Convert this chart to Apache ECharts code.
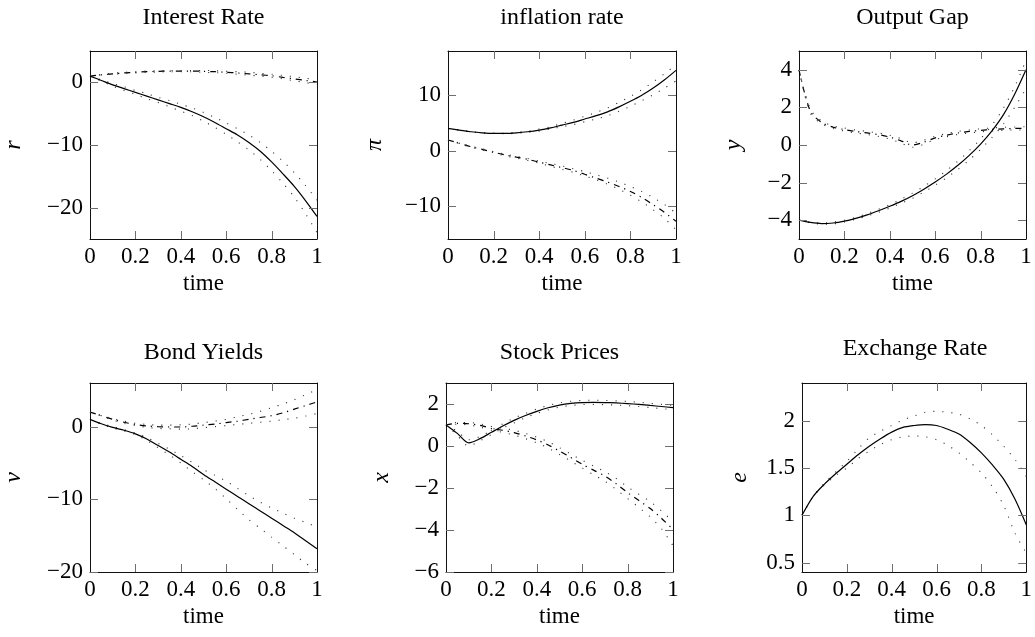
<!DOCTYPE html>
<html>
<head>
<meta charset="utf-8">
<script src="https://cdn.jsdelivr.net/npm/echarts@6/dist/echarts.min.js"></script>
<style>
  html, body { margin: 0; padding: 0; background: #fff; }
  #chart { width: 1035px; height: 637px; }
</style>
</head>
<body>
<div id="chart"></div>
<script>
// shared time grid
const time = [0, 0.05, 0.1, 0.15, 0.2, 0.25, 0.3, 0.35, 0.4, 0.45, 0.5, 0.55, 0.6, 0.65, 0.7, 0.75, 0.8, 0.85, 0.9, 0.95, 1];
const timeTicks = [0.2, 0.4, 0.6, 0.8];

// Interest Rate (r)
const rateTicks = [-20, -10, 0];
const rateMain = [1.0, 0.3, -0.4, -1.0, -1.6, -2.2, -2.8, -3.4, -4.0, -4.7, -5.5, -6.4, -7.4, -8.4, -9.6, -11.0, -12.7, -14.6, -16.6, -18.9, -21.4];
const rateMainHi = [1.0, 0.4, -0.2, -0.7, -1.3, -1.8, -2.4, -2.9, -3.5, -4.1, -4.8, -5.6, -6.5, -7.4, -8.4, -9.6, -11.0, -12.6, -14.4, -16.5, -18.8];
const rateMainLo = [1.0, 0.2, -0.6, -1.3, -1.9, -2.6, -3.2, -3.9, -4.6, -5.3, -6.2, -7.2, -8.3, -9.5, -10.8, -12.3, -14.1, -16.1, -18.3, -21.0, -24.0];
const rateAlt = [1.0, 1.2, 1.35, 1.5, 1.6, 1.7, 1.75, 1.8, 1.8, 1.8, 1.75, 1.7, 1.6, 1.5, 1.35, 1.2, 1.05, 0.8, 0.55, 0.3, 0.05];
const rateAltHi = [1.0, 1.25, 1.45, 1.6, 1.7, 1.8, 1.85, 1.9, 1.9, 1.9, 1.9, 1.85, 1.75, 1.7, 1.6, 1.45, 1.3, 1.1, 0.9, 0.65, 0.4];
const rateAltLo = [1.0, 1.15, 1.3, 1.4, 1.5, 1.6, 1.65, 1.7, 1.7, 1.7, 1.6, 1.55, 1.45, 1.3, 1.15, 1.0, 0.8, 0.55, 0.25, -0.05, -0.35];

// inflation rate (pi)
const inflTicks = [-10, 0, 10];
const inflMain = [4.0, 3.7, 3.4, 3.2, 3.1, 3.1, 3.2, 3.4, 3.7, 4.1, 4.6, 5.1, 5.7, 6.3, 7.0, 7.9, 8.9, 10.0, 11.3, 12.8, 14.5];
const inflMainHi = [4.0, 3.7, 3.4, 3.2, 3.1, 3.15, 3.3, 3.5, 3.9, 4.3, 4.9, 5.5, 6.2, 6.9, 7.7, 8.7, 9.8, 11.0, 12.4, 13.9, 15.5];
const inflMainLo = [4.0, 3.7, 3.4, 3.2, 3.1, 3.05, 3.1, 3.3, 3.5, 3.9, 4.3, 4.7, 5.2, 5.7, 6.3, 7.1, 8.0, 9.0, 10.1, 11.3, 12.6];
const inflAlt = [1.9, 1.3, 0.7, 0.2, -0.3, -0.8, -1.2, -1.6, -2.1, -2.6, -3.1, -3.6, -4.3, -5.0, -5.7, -6.5, -7.4, -8.5, -9.8, -11.2, -12.8];
const inflAltHi = [1.9, 1.35, 0.8, 0.3, -0.2, -0.65, -1.05, -1.45, -1.9, -2.35, -2.8, -3.3, -3.8, -4.4, -5.0, -5.7, -6.5, -7.4, -8.5, -9.8, -11.3];
const inflAltLo = [1.9, 1.25, 0.6, 0.1, -0.4, -0.95, -1.35, -1.8, -2.3, -2.85, -3.4, -3.95, -4.6, -5.3, -6.1, -7.0, -8.1, -9.3, -10.7, -12.3, -14.3];

// Output Gap (y)
const gapTicks = [-4, -2, 0, 2, 4];
const gapMain = [-4.0, -4.12, -4.18, -4.15, -4.05, -3.9, -3.72, -3.5, -3.26, -3.0, -2.7, -2.35, -1.97, -1.55, -1.08, -0.55, 0.05, 0.75, 1.6, 2.7, 4.0];
const gapMainHi = [-4.0, -4.1, -4.15, -4.1, -4.0, -3.85, -3.65, -3.42, -3.17, -2.88, -2.56, -2.2, -1.8, -1.36, -0.86, -0.3, 0.33, 1.06, 1.95, 3.1, 4.5];
const gapMainLo = [-4.0, -4.14, -4.21, -4.2, -4.1, -3.95, -3.78, -3.58, -3.35, -3.1, -2.84, -2.5, -2.14, -1.74, -1.3, -0.8, -0.23, 0.4, 1.1, 2.0, 3.0];
const gapAlt = [4.0, 1.8, 1.2, 0.95, 0.82, 0.72, 0.64, 0.55, 0.42, 0.22, 0.0, 0.15, 0.38, 0.52, 0.64, 0.72, 0.78, 0.83, 0.86, 0.88, 0.88];
const gapAltHi = [4.0, 1.9, 1.28, 1.02, 0.9, 0.8, 0.72, 0.64, 0.52, 0.34, 0.12, 0.26, 0.47, 0.6, 0.72, 0.8, 0.86, 0.91, 0.94, 0.96, 0.97];
const gapAltLo = [4.0, 1.7, 1.12, 0.88, 0.74, 0.64, 0.56, 0.46, 0.32, 0.1, -0.12, 0.04, 0.29, 0.44, 0.56, 0.64, 0.7, 0.75, 0.78, 0.8, 0.79];

// Bond Yields (v)
const bondTicks = [-20, -10, 0];
const bondMain = [1.0, 0.4, -0.1, -0.5, -1.0, -1.7, -2.6, -3.5, -4.5, -5.5, -6.6, -7.6, -8.6, -9.6, -10.6, -11.6, -12.6, -13.6, -14.6, -15.7, -16.8];
const bondMainHi = [1.0, 0.45, 0.0, -0.4, -0.9, -1.5, -2.3, -3.1, -4.0, -4.9, -5.9, -6.7, -7.5, -8.5, -9.5, -10.4, -11.2, -11.9, -12.6, -13.2, -13.8];
const bondMainLo = [1.0, 0.35, -0.2, -0.6, -1.1, -1.9, -2.9, -3.9, -5.0, -6.2, -7.3, -8.5, -9.9, -11.4, -12.8, -14.0, -15.2, -16.4, -17.6, -18.8, -19.8];
const bondAlt = [2.0, 1.5, 1.0, 0.6, 0.3, 0.1, 0.0, -0.05, -0.05, 0.05, 0.2, 0.35, 0.55, 0.75, 1.0, 1.25, 1.5, 1.9, 2.4, 2.9, 3.4];
const bondAltHi = [2.0, 1.55, 1.1, 0.75, 0.45, 0.3, 0.2, 0.2, 0.25, 0.35, 0.55, 0.75, 1.0, 1.35, 1.7, 2.1, 2.6, 3.1, 3.7, 4.4, 5.1];
const bondAltLo = [2.0, 1.45, 0.9, 0.45, 0.15, -0.1, -0.25, -0.3, -0.35, -0.3, -0.15, 0.0, 0.15, 0.3, 0.45, 0.6, 0.75, 0.95, 1.15, 1.45, 1.8];

// Stock Prices (x)
const stockTicks = [-6, -4, -2, 0, 2];
const stockMain = [1.0, 0.6, 0.15, 0.35, 0.65, 0.95, 1.22, 1.45, 1.65, 1.82, 1.95, 2.03, 2.07, 2.08, 2.07, 2.05, 2.02, 1.98, 1.93, 1.88, 1.83];
const stockMainHi = [1.0, 0.7, 0.3, 0.45, 0.75, 1.05, 1.33, 1.55, 1.76, 1.93, 2.05, 2.13, 2.17, 2.18, 2.17, 2.15, 2.12, 2.08, 2.03, 1.98, 1.93];
const stockMainLo = [1.0, 0.5, 0.0, 0.25, 0.55, 0.85, 1.1, 1.35, 1.55, 1.72, 1.85, 1.93, 1.97, 1.98, 1.97, 1.95, 1.92, 1.88, 1.83, 1.78, 1.73];
const stockAlt = [1.0, 1.08, 1.06, 0.98, 0.84, 0.75, 0.64, 0.48, 0.29, 0.05, -0.24, -0.55, -0.87, -1.15, -1.43, -1.8, -2.22, -2.6, -2.98, -3.45, -3.97];
const stockAltHi = [1.0, 1.12, 1.12, 1.05, 0.93, 0.85, 0.75, 0.6, 0.42, 0.2, -0.08, -0.38, -0.68, -0.95, -1.22, -1.55, -1.95, -2.3, -2.65, -3.1, -3.6];
const stockAltLo = [1.0, 1.04, 1.0, 0.9, 0.75, 0.65, 0.52, 0.35, 0.15, -0.1, -0.4, -0.72, -1.05, -1.37, -1.68, -2.07, -2.5, -2.93, -3.38, -3.95, -4.75];

// Exchange Rate (e)
const exchTicks = [0.5, 1, 1.5, 2];
const exchMain = [1.0, 1.2, 1.33, 1.44, 1.54, 1.64, 1.73, 1.81, 1.88, 1.93, 1.95, 1.96, 1.95, 1.91, 1.86, 1.77, 1.66, 1.53, 1.38, 1.17, 0.9];
const exchMainHi = [1.0, 1.2, 1.34, 1.46, 1.57, 1.7, 1.82, 1.89, 1.95, 2.01, 2.05, 2.09, 2.1, 2.09, 2.07, 2.02, 1.95, 1.85, 1.73, 1.59, 1.41];
const exchMainLo = [1.0, 1.2, 1.32, 1.42, 1.5, 1.6, 1.68, 1.75, 1.8, 1.83, 1.84, 1.83, 1.8, 1.74, 1.66, 1.56, 1.45, 1.3, 1.1, 0.81, 0.6];

const FONT = 'Liberation Serif';

// layout of the six panels (grid box in px)
const panels = [
  { title: 'Interest Rate', label: 'r', grid: [90, 51, 227, 188], range: [-25, 5], ticks: rateTicks, titleTop: 1, nameGap: 64,
    lines: [rateMain, rateMainHi, rateMainLo, rateAlt, rateAltHi, rateAltLo] },
  { title: 'inflation rate', label: 'π', grid: [448, 51, 228, 188], range: [-16, 18], ticks: inflTicks, titleTop: 1, nameGap: 61,
    lines: [inflMain, inflMainHi, inflMainLo, inflAlt, inflAltHi, inflAltLo] },
  { title: 'Output Gap', label: 'y', grid: [799, 51, 227, 188], range: [-5, 5], ticks: gapTicks, titleTop: 1, nameGap: 53,
    lines: [gapMain, gapMainHi, gapMainLo, gapAlt, gapAltHi, gapAltLo] },
  { title: 'Bond Yields', label: 'v', grid: [90, 383, 227, 189], range: [-20, 6], ticks: bondTicks, titleTop: 336, nameGap: 64,
    lines: [bondMain, bondMainHi, bondMainLo, bondAlt, bondAltHi, bondAltLo] },
  { title: 'Stock Prices', label: 'x', grid: [446, 383, 227, 189], range: [-6, 3], ticks: stockTicks, titleTop: 336, nameGap: 52,
    lines: [stockMain, stockMainHi, stockMainLo, stockAlt, stockAltHi, stockAltLo] },
  { title: 'Exchange Rate', label: 'e', grid: [802, 383, 226, 189], range: [0.4, 2.4], ticks: exchTicks, titleTop: 332, nameGap: 50,
    lines: [exchMain, exchMainHi, exchMainLo] }
];

const solid = { color: '#000', width: 1.2, type: 'solid' };
const dashDot = { color: '#000', width: 1.2, type: [6, 5, 1.2, 5] };
const dotted = { color: '#333', width: 1.1, type: [1.1, 8] };
const styles = [solid, dotted, dotted, dashDot, dotted, dotted];

const frameLine = { show: true, onZero: false, lineStyle: { color: '#111', width: 1 } };
const minus = v => String(v).replace('-', '\u2212');
const TICK_LEN = 8;

let option = {
  animation: false,
  title: [], grid: [], xAxis: [], yAxis: [], series: []
};

panels.forEach((p, i) => {
  const [left, top, width, height] = p.grid;
  option.title.push({
    text: p.title, left: left + width / 2 - 5, top: p.titleTop, textAlign: 'center',
    textStyle: { fontFamily: FONT, fontSize: 24, fontWeight: 'normal', color: '#000' }
  });
  option.grid.push({ left: left, top: top, width: width, height: height });
  // bottom x axis with labels, top x axis with line only; the four axis lines make the frame
  option.xAxis.push({
    gridIndex: i, type: 'value', min: 0, max: 1, interval: 0.2, position: 'bottom',
    axisLine: frameLine, splitLine: { show: false }, axisTick: { show: false },
    axisLabel: { color: '#000', fontFamily: FONT, fontSize: 23, margin: 6 },
    name: 'time', nameLocation: 'middle', nameGap: 33,
    nameTextStyle: { color: '#000', fontFamily: FONT, fontSize: 23 }
  });
  option.xAxis.push({
    gridIndex: i, type: 'value', min: 0, max: 1, interval: 0.2, position: 'top',
    axisLine: frameLine, splitLine: { show: false }, axisTick: { show: false },
    axisLabel: { show: false }
  });
  option.yAxis.push({
    gridIndex: i, type: 'value', min: p.range[0], max: p.range[1], position: 'left',
    axisLine: frameLine, splitLine: { show: false }, axisTick: { show: false },
    axisLabel: { customValues: p.ticks, formatter: minus, color: '#000', fontFamily: FONT, fontSize: 23, margin: 7 },
    name: p.label, nameLocation: 'middle', nameRotate: 90, nameGap: p.nameGap,
    nameTextStyle: { color: '#000', fontFamily: FONT, fontSize: 24, fontStyle: 'italic' }
  });
  option.yAxis.push({
    gridIndex: i, type: 'value', min: p.range[0], max: p.range[1], position: 'right',
    axisLine: frameLine, splitLine: { show: false }, axisTick: { show: false },
    axisLabel: { show: false }
  });
  p.lines.forEach((vals, k) => {
    option.series.push({
      type: 'line', xAxisIndex: 2 * i, yAxisIndex: 2 * i,
      data: time.map((t, j) => [t, vals[j]]),
      symbol: 'none', smooth: 0.3, silent: true,
      lineStyle: styles[k], z: k === 0 ? 5 : 3
    });
  });
});

let mychart = echarts.init(document.getElementById('chart'));
mychart.setOption(option);

// inward ticks on all four sides (pgfplots style), placed through each grid's scales
let tickMarks = [];
function tick(x1, y1, x2, y2) {
  tickMarks.push({
    type: 'line', silent: true, z: 100,
    shape: { x1: x1, y1: y1, x2: x2, y2: y2 },
    style: { stroke: '#6e6e6e', lineWidth: 1 }
  });
}
panels.forEach((p, i) => {
  const finder = { gridIndex: i };
  const bottomLeft = mychart.convertToPixel(finder, [0, p.range[0]]);
  const topRight = mychart.convertToPixel(finder, [1, p.range[1]]);
  const x0 = bottomLeft[0], y0 = bottomLeft[1], x1 = topRight[0], y1 = topRight[1];
  timeTicks.forEach(t => {
    const x = Math.round(mychart.convertToPixel(finder, [t, p.range[0]])[0]) + 0.5;
    tick(x, y0, x, y0 - TICK_LEN);
    tick(x, y1, x, y1 + TICK_LEN);
  });
  p.ticks.forEach(v => {
    const y = Math.round(mychart.convertToPixel(finder, [0, v])[1]) + 0.5;
    tick(x0, y, x0 + TICK_LEN, y);
    tick(x1, y, x1 - TICK_LEN, y);
  });
});
mychart.setOption({ graphic: { elements: tickMarks } });
</script>
</body>
</html>
